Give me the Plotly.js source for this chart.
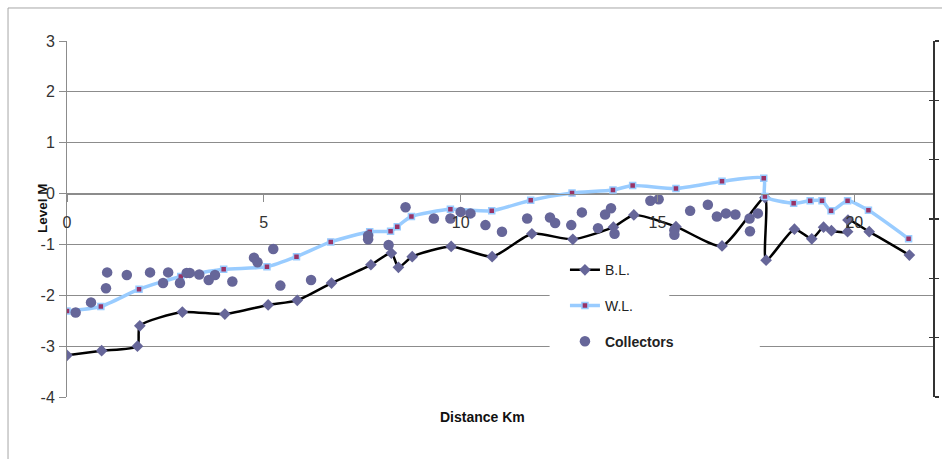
<!DOCTYPE html>
<html>
<head>
<meta charset="utf-8">
<script src="https://cdn.plot.ly/plotly-3.0.1.min.js"></script>
<style>html,body{margin:0;padding:0;background:#fff;}#chart{width:942px;height:459px;}</style>
</head>
<body>
<div id="chart"></div>
<script>
// Bed level (B.L.)
const blX = [0, 0.88, 1.79, 1.85, 2.93, 4.01, 5.11, 5.85, 6.72, 7.72, 8.24, 8.42, 8.77, 9.76, 10.8, 11.81, 12.85, 13.88, 14.4, 15.47, 16.64, 17.73, 17.76, 18.48, 18.92, 19.22, 19.42, 19.83, 19.84, 20.38, 21.4];
const blY = [-3.18, -3.09, -3.0, -2.6, -2.33, -2.37, -2.19, -2.1, -1.76, -1.40, -1.17, -1.45, -1.24, -1.04, -1.24, -0.79, -0.9, -0.66, -0.42, -0.65, -1.03, -0.08, -1.31, -0.70, -0.89, -0.66, -0.73, -0.75, -0.52, -0.75, -1.21];

// Water level (W.L.)
const wlX = [0, 0.86, 1.83, 2.89, 3.98, 5.08, 5.83, 6.70, 7.69, 8.22, 8.39, 8.75, 9.74, 10.79, 11.78, 12.83, 13.87, 14.37, 15.47, 16.64, 17.7, 17.73, 18.46, 18.88, 19.18, 19.41, 19.83, 20.36, 21.38];
const wlY = [-2.31, -2.22, -1.88, -1.63, -1.49, -1.44, -1.24, -0.95, -0.75, -0.74, -0.65, -0.45, -0.31, -0.34, -0.13, 0.01, 0.07, 0.16, 0.10, 0.24, 0.30, -0.06, -0.19, -0.14, -0.14, -0.34, -0.14, -0.33, -0.89];

// Collectors
const colX = [0.22, 0.61, 1.02, 0.99, 1.52, 2.11, 2.44, 2.57, 2.87, 3.04, 3.12, 3.36, 3.6, 3.76, 4.2, 4.75, 4.84, 5.24, 5.42, 6.2, 7.65, 7.65, 8.17, 8.6, 9.32, 9.74, 10.0, 10.25, 10.63, 11.05, 11.69, 12.27, 12.4, 12.81, 13.08, 13.49, 13.67, 13.82, 13.91, 14.82, 15.03, 15.43, 15.43, 15.83, 16.28, 16.51, 16.74, 16.98, 17.34, 17.35, 17.55];
const colY = [-2.34, -2.14, -1.55, -1.86, -1.60, -1.55, -1.76, -1.55, -1.76, -1.56, -1.56, -1.59, -1.70, -1.60, -1.73, -1.26, -1.35, -1.09, -1.81, -1.70, -0.83, -0.90, -1.01, -0.27, -0.49, -0.49, -0.36, -0.39, -0.62, -0.75, -0.49, -0.47, -0.58, -0.62, -0.37, -0.68, -0.41, -0.29, -0.79, -0.14, -0.11, -0.72, -0.81, -0.34, -0.22, -0.45, -0.39, -0.41, -0.49, -0.74, -0.39];

const xTicks = [0, 5, 10, 15, 20];
const yTicks = [-4, -3, -2, -1, 0, 1, 2, 3];

const narrow = "'Liberation Sans Narrow', 'Liberation Sans', sans-serif";
const bold = "'Liberation Sans', Arial, sans-serif";

const traces = [
  {
    name: 'B.L.', legendgroup: 'bl', x: blX, y: blY, mode: 'lines+markers', type: 'scatter',
    line: {color: '#000000', width: 2.5, shape: 'spline', smoothing: 0.6},
    marker: {symbol: 'diamond', size: 9, color: '#666699'},
    hoverinfo: 'x+y'
  },
  {
    name: 'W.L.', legendgroup: 'wl', x: wlX, y: wlY, mode: 'lines+markers', type: 'scatter',
    line: {color: '#99ccff', width: 3.5, shape: 'spline', smoothing: 0.6},
    marker: {symbol: 'square', size: 6, color: '#993366', line: {color: '#99ccff', width: 1.5}},
    hoverinfo: 'x+y'
  },
  {
    name: '<span style="font-family:Liberation Sans;font-weight:bold">Collectors</span>', legendgroup: 'col',
    x: colX, y: colY, mode: 'markers', type: 'scatter',
    marker: {symbol: 'circle', size: 10.5, color: '#666699'},
    hoverinfo: 'x+y'
  },
  {x: [], y: [], yaxis: 'y2', type: 'scatter', showlegend: false, hoverinfo: 'skip'},
  {x: [], y: [], yaxis: 'y3', type: 'scatter', showlegend: false, hoverinfo: 'skip'}
];

const layout = {
  width: 942, height: 459,
  margin: {l: 67, r: 9, t: 41, b: 62, pad: 0},
  paper_bgcolor: '#ffffff', plot_bgcolor: '#ffffff',
  showlegend: true,
  legend: {
    x: 0.575, xanchor: 'left', y: 0.401, yanchor: 'top',
    bgcolor: 'rgba(0,0,0,0)', font: {family: narrow, size: 14, color: '#222'},
    itemwidth: 30, tracegroupgap: 14.5
  },
  xaxis: {
    range: [0, 22], anchor: 'free', position: 4 / 7,
    tickmode: 'array', tickvals: xTicks, ticktext: xTicks.map(String),
    ticks: 'outside', ticklen: 7, tickcolor: '#8c8c8c', tickwidth: 1,
    showline: true, linecolor: '#8c8c8c', linewidth: 1,
    showgrid: false, zeroline: false,
    tickfont: {family: narrow, size: 16, color: '#333'},
    ticklabelstandoff: 7, fixedrange: true
  },
  yaxis: {
    range: [-4, 3], tickmode: 'array', tickvals: yTicks, ticktext: yTicks.map(String),
    ticks: 'outside', ticklen: 7, tickcolor: '#8c8c8c', tickwidth: 1,
    showline: true, linecolor: '#8c8c8c', linewidth: 1,
    showgrid: true, gridcolor: '#8c8c8c', gridwidth: 1, zeroline: false,
    tickfont: {family: narrow, size: 16, color: '#333'},
    ticklabelstandoff: 1, fixedrange: true
  },
  yaxis2: {
    overlaying: 'y', side: 'right', range: [0, 6], dtick: 1, tick0: 0,
    showgrid: false, zeroline: false, showticklabels: false,
    showline: true, linecolor: '#333', linewidth: 1.5,
    ticks: 'outside', ticklen: 4, tickcolor: '#333', tickwidth: 1.5, fixedrange: true
  },
  yaxis3: {
    overlaying: 'y', side: 'right', range: [0, 6], dtick: 1, tick0: 0,
    showgrid: false, zeroline: false, showticklabels: false, showline: false,
    ticks: 'inside', ticklen: 4, tickcolor: '#333', tickwidth: 1.5, fixedrange: true
  },
  annotations: [
    {text: '<b>Level M</b>', xref: 'paper', yref: 'paper', x: -0.0277, y: 0.531,
     xanchor: 'center', yanchor: 'middle', textangle: -90, showarrow: false,
     font: {family: bold, size: 13.5, color: '#111'}},
    {text: '<b>Distance Km</b>', xref: 'paper', yref: 'paper', x: 0.48, y: -0.056,
     xanchor: 'center', yanchor: 'middle', showarrow: false,
     font: {family: bold, size: 14, color: '#111'}}
  ],
  shapes: [
    {type: 'rect', xref: 'paper', yref: 'paper', x0: -0.0681, x1: 1.2, y0: -0.4, y1: 1.0927,
     line: {color: '#a6a6a6', width: 1}, fillcolor: 'rgba(0,0,0,0)', layer: 'below'},
    {type: 'rect', xref: 'x', yref: 'y', x0: 12.26, x1: 15.3, y0: -2.08, y1: -1.92,
     line: {width: 0}, fillcolor: '#ffffff', layer: 'between'},
    {type: 'rect', xref: 'x', yref: 'y', x0: 12.26, x1: 17.6, y0: -3.08, y1: -2.92,
     line: {width: 0}, fillcolor: '#ffffff', layer: 'between'}
  ]
};

Plotly.newPlot('chart', traces, layout, {displayModeBar: false, staticPlot: true});
</script>
</body>
</html>
